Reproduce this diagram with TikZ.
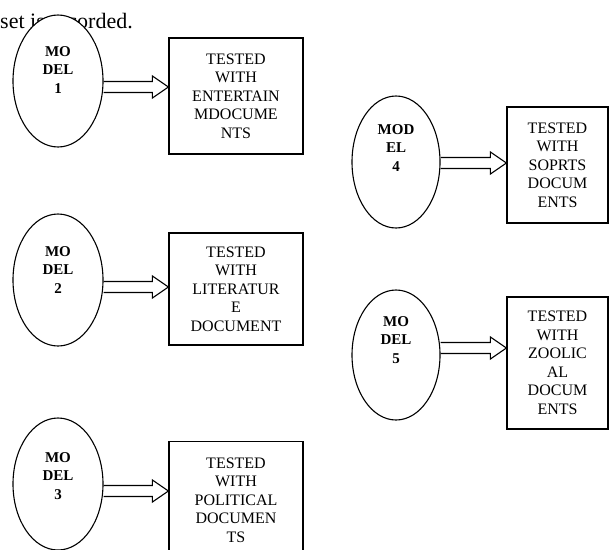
\documentclass[tikz,border=0pt]{standalone}
\usepackage{fontspec}
\setmainfont{Liberation Serif}
\usepackage{tikz}
\usetikzlibrary{calc,shapes.geometric}

\tikzset{
  model/.style={ellipse, draw, line width=1.1pt, fill=white, minimum width=90pt, minimum height=132pt, inner sep=0pt},
  modeltxt/.style={align=center, font=\fontsize{15}{18.5}\selectfont\bfseries, inner sep=0pt},
  testbox/.style={rectangle, draw, line width=1.2pt, align=center, font=\fontsize{16}{18.5}\selectfont, inner sep=0pt},
  fat/.style={line width=1.1pt, line join=miter}
}

% hollow block arrow from a model to its box, #3 = drop below the ellipse centre
\newcommand{\fatarrow}[3]{%
  \draw[fat] let \p1=($(#1.east)+(0,#3)$), \p2=(#2.west) in
    (\x1,\y1+5.5pt) -- (\x2-16pt,\y1+5.5pt) -- (\x2-16pt,\y1+11pt) -- (\x2,\y1)
    -- (\x2-16pt,\y1-11pt) -- (\x2-16pt,\y1-5.5pt) -- (\x1,\y1-5.5pt);}

\begin{document}
\begin{tikzpicture}[x=1pt, y=-1pt]
  \useasboundingbox (0,0) rectangle (609,549);
  \clip (0,0) rectangle (609,549);

  \node[anchor=base west, inner sep=0pt, font=\fontsize{22}{26}\selectfont] (rec) at (0,28) {set is recorded.};

  % models
  \node[model] (m1) at (58,81) {};
  \node[model] (m2) at (58,280) {};
  \node[model] (m3) at (58,484) {};
  \node[model, minimum width=88pt] (m4) at (396,162) {};
  \node[model, minimum width=88pt, minimum height=130pt] (m5) at (396,355) {};

  \node[modeltxt] (m1txt) at ($(m1)+(0,-11)$) {MO\\DEL\\1};
  \node[modeltxt] (m2txt) at ($(m2)+(0,-10)$) {MO\\DEL\\2};
  \node[modeltxt] (m3txt) at ($(m3)+(0,-8)$) {MO\\DEL\\3};
  \node[modeltxt] (m4txt) at ($(m4)+(0,-14)$) {MOD\\EL\\4};
  \node[modeltxt] (m5txt) at ($(m5)+(0,-15)$) {MO\\DEL\\5};

  % test boxes
  \node[testbox, minimum width=134pt, minimum height=116pt] (t1) at (236,96) {TESTED\\WITH\\ENTERTAIN\\MDOCUME\\NTS};
  \node[testbox, minimum width=134pt, minimum height=112pt] (t2) at (236,289) {TESTED\\WITH\\LITERATUR\\E\\DOCUMENT};
  \node[testbox, minimum width=134pt, minimum height=117pt] (t3) at (236,500) {TESTED\\WITH\\POLITICAL\\DOCUMEN\\TS};
  \node[testbox, minimum width=101pt, minimum height=116pt] (t4) at (557.5,165) {TESTED\\WITH\\SOPRTS\\DOCUM\\ENTS};
  \node[testbox, minimum width=101pt, minimum height=132pt] (t5) at (557.5,363) {TESTED\\WITH\\ZOOLIC\\AL\\DOCUM\\ENTS};

  \fatarrow{m1}{t1}{6}
  \fatarrow{m2}{t2}{7}
  \fatarrow{m3}{t3}{7}
  \fatarrow{m4}{t4}{1}
  \fatarrow{m5}{t5}{-7}
\end{tikzpicture}
\end{document}
